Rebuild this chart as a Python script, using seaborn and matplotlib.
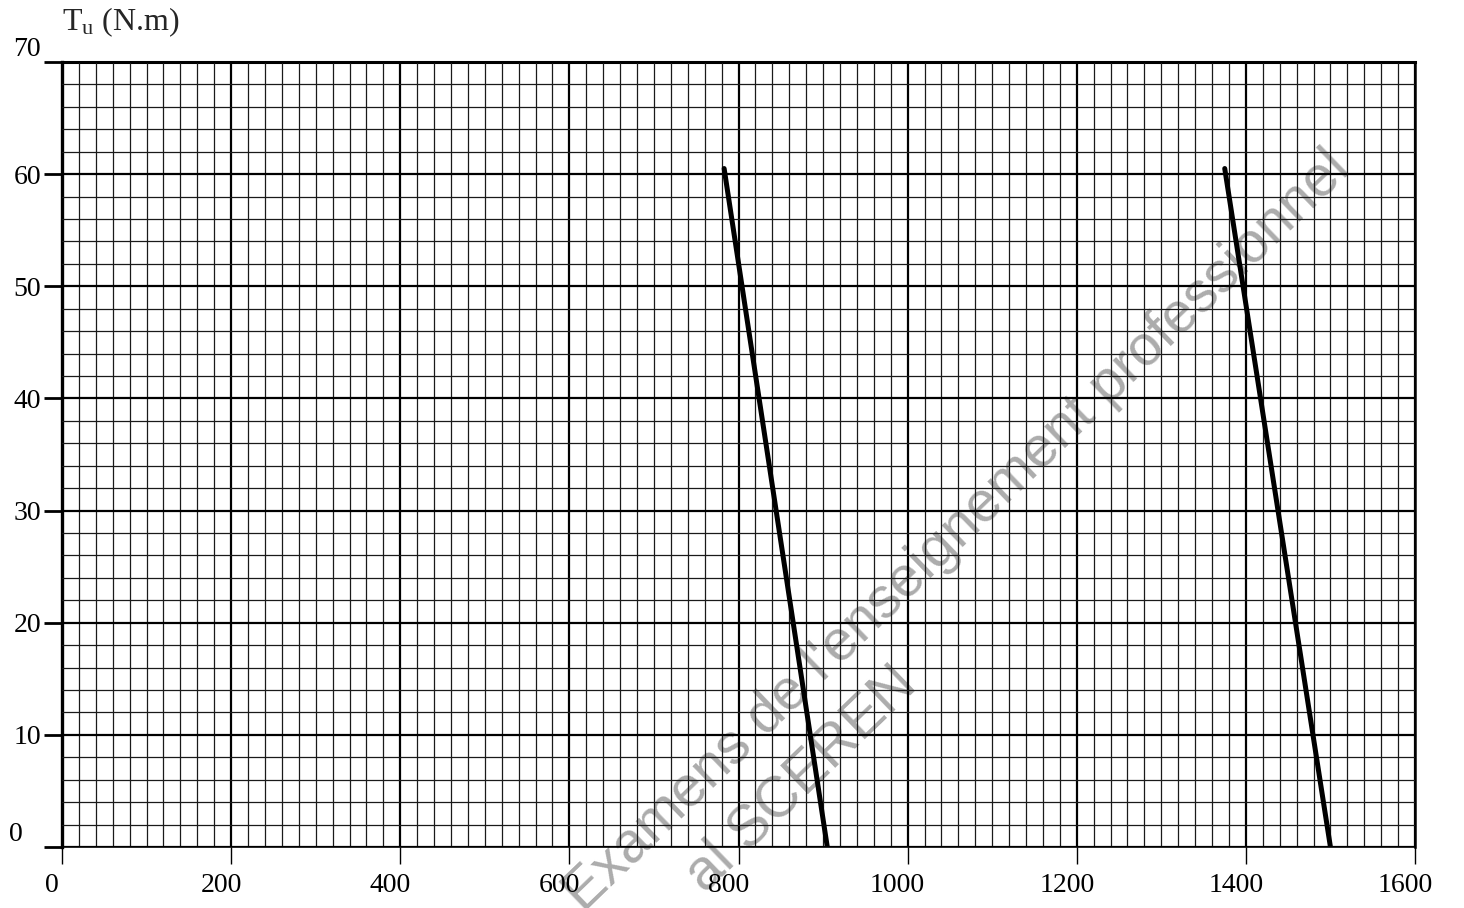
import numpy as np
import pandas as pd
import matplotlib
matplotlib.use('Agg')
import matplotlib.pyplot as plt
import matplotlib.transforms as mtransforms
from matplotlib.ticker import MultipleLocator
import seaborn as sns

# données : vitesse n (tr/min) et couple utile Tu (N.m)
vitesse_1 = [783, 905]
couple_1 = [60.5, 0]
vitesse_2 = [1375, 1500]
couple_2 = [60.5, 0]

x_ticks = [0, 200, 400, 600, 800, 1000, 1200, 1400, 1600]
y_ticks = [0, 10, 20, 30, 40, 50, 60, 70]

sns.set_theme(style='white')
plt.rcParams['font.family'] = ['Liberation Serif', 'DejaVu Serif']
plt.rcParams['mathtext.fontset'] = 'custom'
plt.rcParams['mathtext.rm'] = 'Liberation Serif'
plt.rcParams['mathtext.it'] = 'Liberation Serif:italic'

fig = plt.figure(figsize=(14.64, 9.08), dpi=100)
ax = fig.add_axes([62 / 1464, 1 - 847 / 908, (1415 - 62) / 1464, (847 - 62) / 908])
ax.set_facecolor('none')

df1 = pd.DataFrame({'n': vitesse_1, 'Tu': couple_1})
df2 = pd.DataFrame({'n': vitesse_2, 'Tu': couple_2})
sns.lineplot(data=df1, x='n', y='Tu', color='black', lw=3.6, sort=False, estimator=None, ax=ax, zorder=5)
sns.lineplot(data=df2, x='n', y='Tu', color='black', lw=3.6, sort=False, estimator=None, ax=ax, zorder=5)

ax.set_xlim(0, 1600)
ax.set_ylim(0, 70)
ax.set_xticks(x_ticks)
ax.set_yticks(y_ticks)
ax.set_xticklabels([str(v) for v in x_ticks])
ax.set_yticklabels([str(v) for v in y_ticks])
ax.xaxis.set_minor_locator(MultipleLocator(20))
ax.yaxis.set_minor_locator(MultipleLocator(2))

# papier millimétré
ax.grid(which='major', color='black', lw=1.6, zorder=2)
ax.grid(which='minor', color='#1a1a1a', lw=0.9, zorder=1)
ax.set_axisbelow(False)

ax.tick_params(axis='x', which='major', direction='out', length=12, width=1.0, pad=7,
               labelsize=20, colors='black', bottom=True)
ax.tick_params(axis='y', which='major', direction='out', length=13, width=2.0, pad=2,
               labelsize=20, colors='black', left=True)
ax.tick_params(which='minor', length=0)

for side, lw in [('left', 2.4), ('top', 2.2), ('right', 1.8), ('bottom', 1.2)]:
    ax.spines[side].set_visible(True)
    ax.spines[side].set_color('black')
    ax.spines[side].set_linewidth(lw)

ax.set_xlabel('')
ax.set_ylabel('')

# petits décalages des étiquettes comme sur le document scanné
for lbl in ax.get_xticklabels():
    lbl.set_transform(lbl.get_transform() + mtransforms.ScaledTranslation(-10 / 100, 0, fig.dpi_scale_trans))
ylbls = ax.get_yticklabels()
ylbls[0].set_verticalalignment('bottom')
ylbls[0].set_transform(ylbls[0].get_transform() + mtransforms.ScaledTranslation(-18 / 100, 0, fig.dpi_scale_trans))
ylbls[-1].set_verticalalignment('bottom')

fig.text(62 / 1464, 1 - 22 / 908, r'T$_{\mathrm{u}}$ (N.m)', fontsize=23, ha='left', va='center')

# filigrane (partie visible)
fig.text(1342 / 1464, 1 - 160 / 908, "Examens de l'enseignement professionnel",
         rotation=44, rotation_mode='anchor', ha='right', va='center', fontsize=41,
         family='Liberation Sans', color='#acacac', zorder=-1)
fig.text(908 / 1464, 1 - 676 / 908, 'al SCEREN',
         rotation=44, rotation_mode='anchor', ha='right', va='center', fontsize=41,
         family='Liberation Sans', color='#acacac', zorder=-1)

fig.savefig('out.png', dpi=100)
